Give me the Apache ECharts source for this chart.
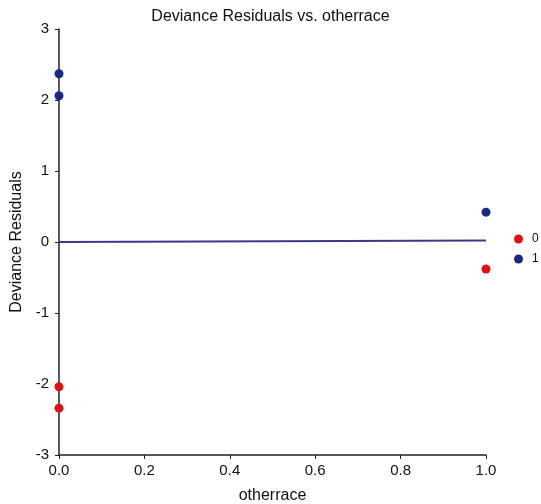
<!DOCTYPE html>
<html><head><meta charset="utf-8">
<script src="https://cdn.jsdelivr.net/npm/echarts@6/dist/echarts.min.js"></script>
<style>html,body{margin:0;padding:0;background:#fff}#c{width:541px;height:504px}</style>
</head><body><div id="c"></div>
<script>
const xTicks = [0, 0.2, 0.4, 0.6, 0.8, 1.0];
const yTicks = [-3, -2, -1, 0, 1, 2, 3];
const group0X = [0, 0, 1];
const group0Y = [-2.04, -2.34, -0.38];
const group1X = [0, 0, 1];
const group1Y = [2.37, 2.06, 0.42];
const fitX = [0, 1];
const fitY = [0, 0.02];

const zip = (a, b) => a.map((v, i) => [v, b[i]]);
const font = 'Liberation Sans, Arial, sans-serif';
const chart = echarts.init(document.getElementById('c'), null, {renderer: 'canvas'});
chart.setOption({
  animation: false,
  backgroundColor: '#fff',
  title: {text: 'Deviance Residuals vs. otherrace', left: 'center', top: 4,
    textStyle: {fontFamily: font, fontSize: 16, fontWeight: 'normal', color: '#111'}},
  grid: {left: 59, right: 55, top: 29, bottom: 49, containLabel: false, outerBoundsMode: 'none'},
  legend: {data: ['0', '1'], orient: 'vertical', left: 509, top: 228, itemGap: 8,
    icon: 'circle', itemWidth: 9, itemHeight: 9,
    textStyle: {fontFamily: font, fontSize: 12, color: '#111', padding: [0, 0, 0, 4]}},
  xAxis: {type: 'value', min: 0, max: 1, interval: 0.2,
    name: 'otherrace', nameLocation: 'middle', nameGap: 33,
    nameTextStyle: {fontFamily: font, fontSize: 16, color: '#111'},
    axisLine: {onZero: false, lineStyle: {color: '#222', width: 1.5}},
    axisTick: {show: true, length: 4, lineStyle: {color: '#222'}},
    splitLine: {show: false},
    axisLabel: {fontFamily: font, fontSize: 15, color: '#111', margin: 8,
      formatter: v => v.toFixed(1)}},
  yAxis: {type: 'value', min: -3, max: 3, interval: 1,
    name: 'Deviance Residuals', nameLocation: 'middle', nameGap: 34,
    nameTextStyle: {fontFamily: font, fontSize: 16, color: '#111'},
    axisLine: {show: true, onZero: false, lineStyle: {color: '#222', width: 1.5}},
    axisTick: {show: true, length: 4, lineStyle: {color: '#222'}},
    splitLine: {show: false},
    axisLabel: {fontFamily: font, fontSize: 15, color: '#111', margin: 10}},
  series: [
    {name: 'fit', type: 'line', data: zip(fitX, fitY), symbol: 'none',
      lineStyle: {color: '#3a3a86', width: 2}, z: 1, legendHoverLink: false},
    {name: '0', type: 'scatter', data: zip(group0X, group0Y), symbolSize: 9,
      itemStyle: {color: '#e01010', opacity: 1}, z: 3},
    {name: '1', type: 'scatter', data: zip(group1X, group1Y), symbolSize: 9,
      itemStyle: {color: '#1a2688', opacity: 1}, z: 3}
  ]
});
</script></body></html>
